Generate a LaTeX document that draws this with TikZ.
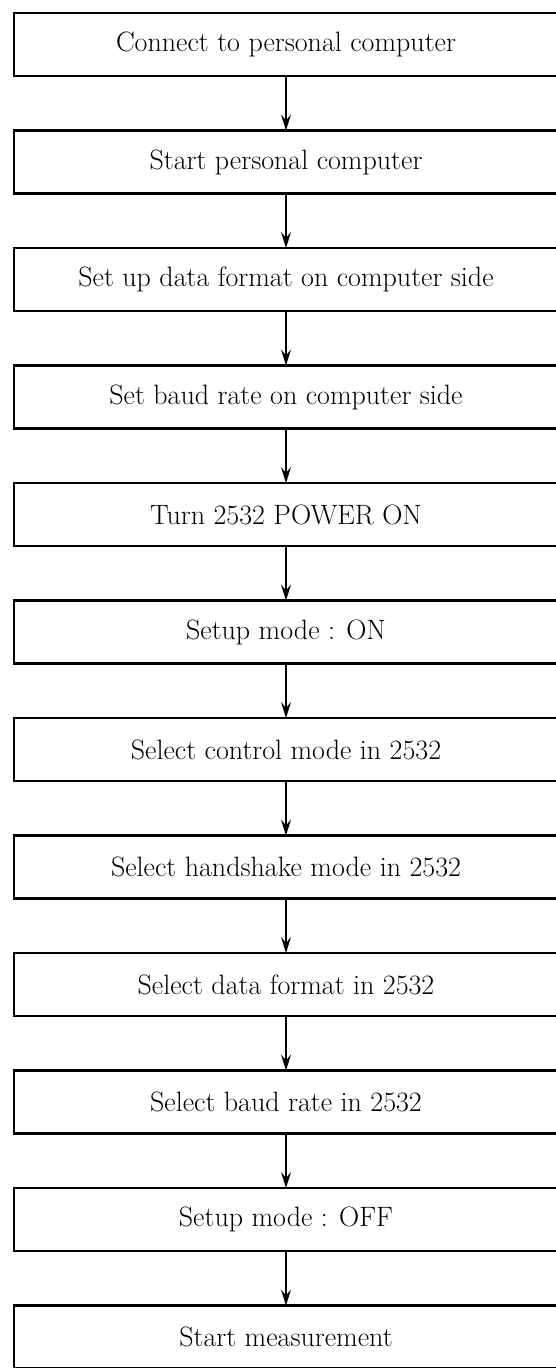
\documentclass[tikz,border=0pt]{standalone}
\usepackage{tikz}
\usetikzlibrary{
  arrows.meta,
  positioning
}
\tikzset{
  % Step box: wide, fixed height
  stepbox/.style={
    rectangle, draw=black, line width=2.6pt,
    minimum width=544pt, minimum height=63pt,
    inner sep=0pt, outer sep=0pt, align=center,
    font=\fontsize{28}{32}\selectfont
  },
  % Arrow
  arr/.style={
    -{Stealth[length=16pt,width=10pt,inset=6pt]},
    line width=1.6pt, color=black
  }
}
\begin{document}
\begin{tikzpicture}[x=1pt, y=-1pt, node distance=54.5pt]
  \useasboundingbox (0,0) rectangle (555,1368);
  \node[stepbox] (conn) at (286,44.5) {Connect to personal computer};
  \node[stepbox, below=of conn]    (startpc)  {Start personal computer};
  \node[stepbox, below=of startpc] (pcfmt)    {Set up data format on computer side};
  \node[stepbox, below=of pcfmt]   (pcbaud)   {Set baud rate on computer side};
  \node[stepbox, below=of pcbaud]  (power)    {Turn 2532 POWER ON};
  \node[stepbox, below=of power]   (setupon)  {Setup mode : ON};
  \node[stepbox, below=of setupon] (ctrl)     {Select control mode in 2532};
  \node[stepbox, below=of ctrl]    (hshake)   {Select handshake mode in 2532};
  \node[stepbox, below=of hshake]  (fmt)      {Select data format in 2532};
  \node[stepbox, below=of fmt]     (baud)     {Select baud rate in 2532};
  \node[stepbox, below=of baud]    (setupoff) {Setup mode : OFF};
  \node[stepbox, below=of setupoff] (meas)    {Start measurement};

  \foreach \a/\b in {conn/startpc, startpc/pcfmt, pcfmt/pcbaud, pcbaud/power,
                     power/setupon, setupon/ctrl, ctrl/hshake, hshake/fmt,
                     fmt/baud, baud/setupoff, setupoff/meas}
    \draw[arr] (\a) -- (\b);
\end{tikzpicture}
\end{document}
